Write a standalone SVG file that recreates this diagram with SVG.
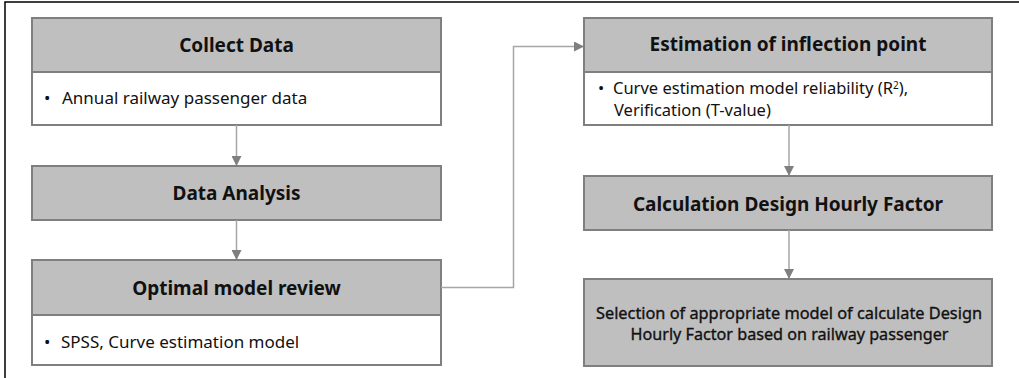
<svg xmlns="http://www.w3.org/2000/svg" width="1019" height="378" viewBox="0 0 1019 378">
<defs>
<style>
.hdr{fill:#bfbfbf;stroke:#7f7f7f;stroke-width:2}
.body{fill:#ffffff;stroke:#7f7f7f;stroke-width:2}
.t{font-family:"Noto Sans","Open Sans",sans-serif;fill:#111}
.b{font-weight:bold;font-size:19px}
.n{font-size:17px}
.m{font-size:16.5px}
.s{font-size:16.5px;stroke:#111;stroke-width:0.35}
.c{fill:none;stroke:#a6a6a6;stroke-width:1.5}
</style>
<marker id="ah" markerWidth="10" markerHeight="10" refX="9" refY="5" orient="auto" markerUnits="userSpaceOnUse">
<path d="M0,0 L10,5 L0,10 Z" fill="#7f7f7f"/>
</marker>
</defs>
<rect width="1019" height="378" fill="#fff"/>
<path d="M5,378 V2 H1019" fill="none" stroke="#000" stroke-width="1.5"/>
<g id="collect-data">
<rect class="hdr" x="32" y="18" width="409" height="54"/>
<rect class="body" x="32" y="72" width="409" height="53"/>
<text class="t b" x="236.5" y="52" text-anchor="middle">Collect Data</text>
<text class="t n" y="104"><tspan x="44">•</tspan><tspan x="62">Annual railway passenger data</tspan></text>
</g>
<g id="data-analysis">
<rect class="hdr" x="32" y="166" width="409" height="54"/>
<text class="t b" x="236.5" y="200" text-anchor="middle">Data Analysis</text>
</g>
<g id="optimal-model">
<rect class="hdr" x="32" y="260" width="409" height="55"/>
<rect class="body" x="32" y="315" width="409" height="50"/>
<text class="t b" x="236.5" y="295" text-anchor="middle">Optimal model review</text>
<text class="t n" y="348"><tspan x="44">•</tspan><tspan x="61">SPSS, Curve estimation model</tspan></text>
</g>
<g id="estimation">
<rect class="hdr" x="584" y="18" width="408" height="54"/>
<rect class="body" x="584" y="72" width="408" height="53"/>
<text class="t b" x="788" y="51" text-anchor="middle">Estimation of inflection point</text>
<text class="t m" y="94"><tspan x="598">•</tspan><tspan x="613">Curve estimation model reliability (R</tspan><tspan font-size="10" dy="-5">2</tspan><tspan dy="5">),</tspan></text>
<text class="t m" x="614" y="116">Verification (T-value)</text>
</g>
<g id="calculation">
<rect class="hdr" x="584" y="176" width="408" height="54"/>
<text class="t b" x="788" y="211" text-anchor="middle">Calculation Design Hourly Factor</text>
</g>
<g id="selection">
<rect class="hdr" x="584" y="279" width="408" height="87"/>
<text class="t s" x="789" y="319" text-anchor="middle" textLength="386" lengthAdjust="spacingAndGlyphs">Selection of appropriate model of calculate Design</text>
<text class="t s" x="789.5" y="340" text-anchor="middle" textLength="318" lengthAdjust="spacingAndGlyphs">Hourly Factor based on railway passenger</text>
</g>
<g id="connectors">
<line class="c" x1="236.5" y1="125" x2="236.5" y2="165" marker-end="url(#ah)"/>
<line class="c" x1="236.5" y1="220" x2="236.5" y2="259" marker-end="url(#ah)"/>
<polyline class="c" points="441,287.5 513.5,287.5 513.5,46.5 583,46.5" marker-end="url(#ah)"/>
<line class="c" x1="789" y1="125" x2="789" y2="175" marker-end="url(#ah)"/>
<line class="c" x1="789" y1="230" x2="789" y2="278" marker-end="url(#ah)"/>
</g>
</svg>
